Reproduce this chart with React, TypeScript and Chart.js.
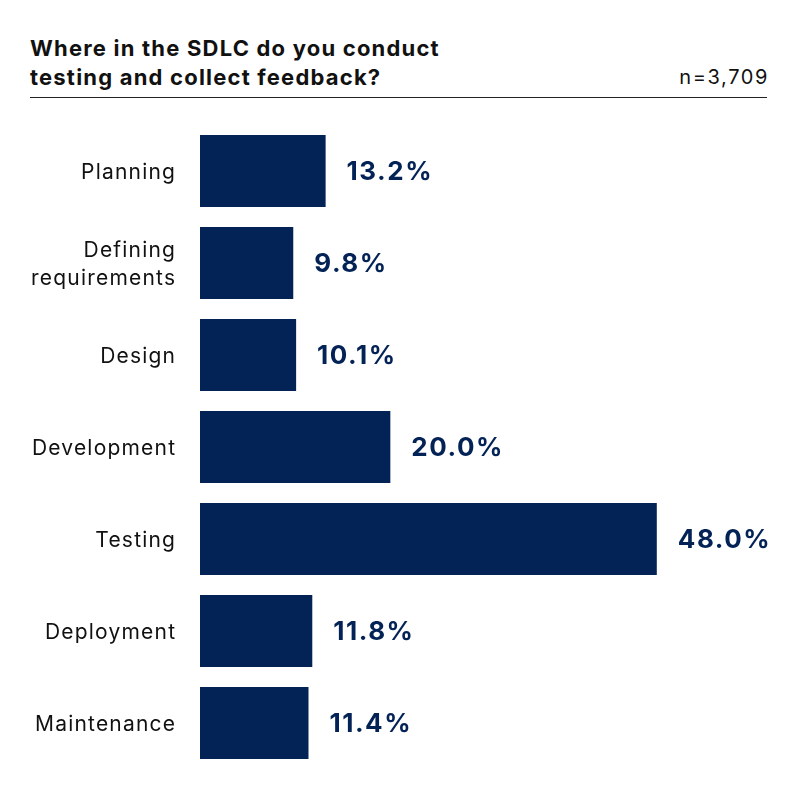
import React, { useEffect, useRef } from "react";
import { Chart, registerables } from "chart.js";
Chart.register(...registerables);

const categories: (string | string[])[] = [
  "Planning",
  ["Defining", "requirements"],
  "Design",
  "Development",
  "Testing",
  "Deployment",
  "Maintenance",
];
const values = [13.2, 9.8, 10.1, 20.0, 48.0, 11.8, 11.4];
const valueLabels = ["13.2%", "9.8%", "10.1%", "20.0%", "48.0%", "11.8%", "11.4%"];
const titleLines = ["Where in the SDLC do you conduct", "testing and collect feedback?"];
const sampleNote = "n=3,709";

const NAVY = "#032255";
const FONT = "Inter, 'Noto Sans', sans-serif";

export default function App() {
  const ref = useRef<HTMLCanvasElement | null>(null);
  useEffect(() => {
    if (!ref.current) return;
    const labelPlugin = {
      id: "catLabels",
      afterDraw(chart: any) {
        const ctx = chart.ctx;
        const yScale = chart.scales.y;
        ctx.save();
        (ctx as any).letterSpacing = "1.2px";
        ctx.fillStyle = "#111111";
        ctx.font = `21px ${FONT}`;
        ctx.textAlign = "right";
        ctx.textBaseline = "middle";
        const xRight = chart.chartArea.left - 25 + 1.2;
        const lh = 28;
        categories.forEach((c, i) => {
          const lines = Array.isArray(c) ? c : [c];
          const cy = yScale.getPixelForValue(i) + 2;
          const start = cy - ((lines.length - 1) * lh) / 2;
          lines.forEach((ln, j) => ctx.fillText(ln, xRight, start + j * lh));
        });
        ctx.restore();
      },
    };
    const valuePlugin = {
      id: "valueLabels",
      afterDatasetsDraw(chart: any) {
        const ctx = chart.ctx;
        const meta = chart.getDatasetMeta(0);
        ctx.save();
        (ctx as any).letterSpacing = "1.5px";
        ctx.fillStyle = NAVY;
        ctx.font = `bold 26px ${FONT}`;
        ctx.textAlign = "left";
        ctx.textBaseline = "middle";
        meta.data.forEach((bar: any, i: number) => {
          ctx.fillText(valueLabels[i], bar.x + 21, bar.y + 1.5);
        });
        ctx.restore();
      },
    };
    const chart = new Chart(ref.current, {
      type: "bar",
      data: {
        labels: categories,
        datasets: [
          {
            data: values,
            backgroundColor: NAVY,
            borderWidth: 0,
            barPercentage: 1,
            categoryPercentage: 0.783,
          },
        ],
      },
      options: {
        indexAxis: "y",
        animation: false,
        responsive: false,
        maintainAspectRatio: false,
        layout: { padding: { top: 15, bottom: 21, left: 0, right: 29 } },
        plugins: { legend: { display: false }, tooltip: { enabled: false } },
        scales: {
          x: { display: false, min: 0, max: 60 },
          y: {
            grid: { display: false, drawTicks: false },
            border: { display: false },
            afterFit: (scale: any) => {
              scale.width = 200;
              scale.paddingTop = 0;
              scale.paddingBottom = 0;
            },
            ticks: {
              padding: 24,
              color: "rgba(0,0,0,0)",
              font: { family: FONT, size: 21, lineHeight: 1.34 },
            },
          },
        },
      },
      plugins: [labelPlugin, valuePlugin],
    });
    return () => chart.destroy();
  }, []);

  return (
    <div
      style={{
        position: "absolute",
        left: 0,
        top: 0,
        width: 800,
        height: 801,
        background: "#ffffff",
        fontFamily: FONT,
      }}
    >
      <div
        style={{
          position: "absolute",
          left: 30,
          top: 34,
          fontWeight: 700,
          fontSize: 22,
          letterSpacing: "1.2px",
          lineHeight: "29px",
          color: "#111111",
        }}
      >
        {titleLines.map((t, i) => (
          <div key={i}>{t}</div>
        ))}
      </div>
      <div
        style={{
          position: "absolute",
          right: 31,
          top: 63,
          fontSize: 20,
          letterSpacing: "1.6px",
          lineHeight: "29px",
          color: "#111111",
        }}
      >
        {sampleNote}
      </div>
      <div
        style={{
          position: "absolute",
          left: 30,
          top: 97,
          width: 737,
          height: 1,
          background: "#222222",
        }}
      />
      <canvas
        ref={ref}
        width={800}
        height={680}
        style={{ position: "absolute", left: 0, top: 110, width: 800, height: 680 }}
      />
    </div>
  );
}
